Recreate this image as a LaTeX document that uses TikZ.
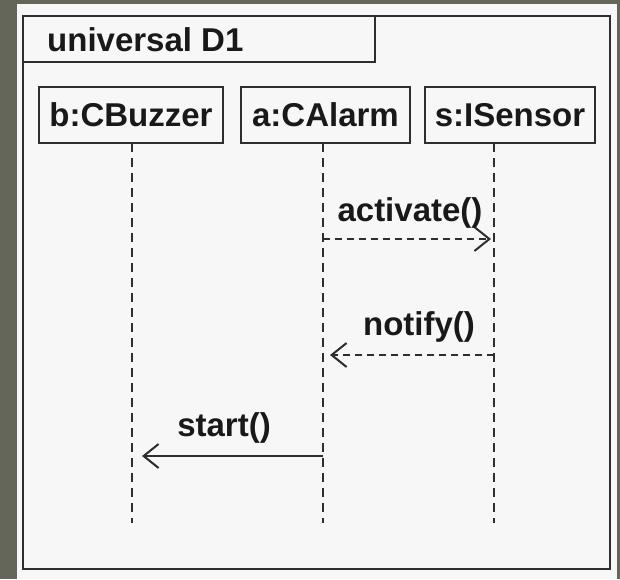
\documentclass[tikz,border=0pt]{standalone}
\usepackage{fontspec}
\setmainfont{Liberation Sans}
\usetikzlibrary{arrows.meta}
\definecolor{bgdark}{HTML}{65665A}
\definecolor{panel}{HTML}{F7F7F7}
\definecolor{ink}{HTML}{2E2E2E}
\tikzset{
    lbl/.style={font=\bfseries\fontsize{33}{36}\selectfont, text=black!90, inner sep=0pt},
    obj/.style={lbl, draw=ink, line width=2pt, minimum height=56pt},
    life/.style={draw=ink, line width=2.3pt, dash pattern=on 9pt off 6pt},
    call/.style={draw=ink, line width=2pt, -{Straight Barb[length=15pt,width=24pt,line width=2pt]}},
    reply/.style={call, dash pattern=on 7pt off 5pt}
}
\begin{document}
\begin{tikzpicture}[x=1pt,y=-1pt]
        \useasboundingbox (0,0) rectangle (620,579);
        \fill[bgdark] (0,0) rectangle (620,579);
        \fill[panel] (17,4) rectangle (617,579);

        \draw[ink, line width=2.4pt] (23,16) rectangle (610,569);
        \draw[ink, line width=2.2pt] (23,16) rectangle (375,62);
        \node[lbl, anchor=west] (title) at (47,40) {universal D1};

        \node[obj, minimum width=184pt] (buzzer) at (131,115) {b:CBuzzer};
        \node[obj, minimum width=169pt] (alarm) at (325.5,115) {a:CAlarm};
        \node[obj, minimum width=170pt] (sensor) at (510,115) {s:ISensor};

        \coordinate (B0) at (132,143);
        \coordinate (A0) at (323,143);
        \coordinate (S0) at (494,143);
        \coordinate (B1) at (132,523);
        \coordinate (A1) at (323,523);
        \coordinate (S1) at (494,523);

        \coordinate (A2) at (323,239);
        \coordinate (S2) at (491,239);
        \coordinate (S3) at (494,355);
        \coordinate (A3) at (330,355);
        \coordinate (A4) at (323,456);
        \coordinate (B4) at (142,456);

        \draw[life] (B0) -- (B1);
        \draw[life] (A0) -- (A1);
        \draw[life] (S0) -- (S1);

        \draw[reply] (A2) -- (S2);
        \draw[reply] (S3) -- (A3);
        \draw[call] (A4) -- (B4);

        \node[lbl] (activate) at (410,213) {activate()};
        \node[lbl] (notify) at (419,327) {notify()};
        \node[lbl] (start) at (224,428) {start()};
    \end{tikzpicture}
\end{document}
